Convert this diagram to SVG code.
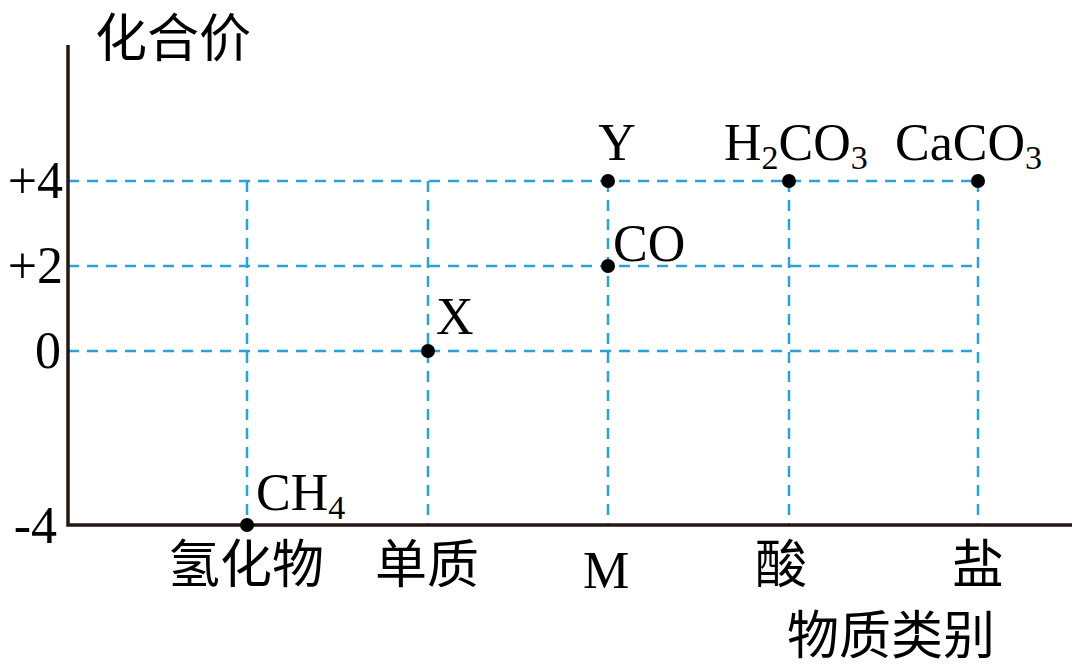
<svg xmlns="http://www.w3.org/2000/svg" width="1080" height="668" viewBox="0 0 1080 668">
<style>
.ax{stroke:#231815;stroke-width:3.5;fill:none}
.gd{stroke:#2aa2d6;stroke-width:2.5;stroke-dasharray:11 8;fill:none}
.t{font-family:"Liberation Serif","Times New Roman",serif;font-size:52px;fill:#000}
.s{font-size:34px}
.c{font-family:"Noto Sans CJK SC",sans-serif;font-size:52px;fill:#000}
.dot{fill:#000}
</style>
<rect width="1080" height="668" fill="#fff"/>
<g id="grid">
<path class="gd" d="M68 181H978M68 266H978M68 351H978"/>
<path class="gd" d="M247 181V525M428 181V525M608 181V525M789 181V525M978 181V525"/>
</g>
<g id="axes">
<path class="ax" d="M68 45V525H1072"/>
</g>
<g id="ylabels">
<text class="c" x="95" y="57" font-size="48">化合价</text>
<text class="t" x="63" y="198" text-anchor="end">+4</text>
<text class="t" x="63" y="283" text-anchor="end">+2</text>
<text class="t" x="61" y="368" text-anchor="end">0</text>
<text class="t" x="57" y="543" text-anchor="end">-4</text>
</g>
<g id="xlabels">
<text class="c" x="246" y="583" text-anchor="middle" font-size="54">氢化物</text>
<text class="c" x="427" y="583" text-anchor="middle" font-size="54">单质</text>
<text class="t" x="606" y="588" text-anchor="middle" font-size="54">M</text>
<text class="c" x="781" y="583" text-anchor="middle" font-size="54">酸</text>
<text class="c" x="978" y="583" text-anchor="middle" font-size="54">盐</text>
<text class="c" x="891" y="654" text-anchor="middle" font-size="54">物质类别</text>
</g>
<g id="p-ch4"><circle class="dot" cx="247" cy="525" r="7"/><text class="t" x="256" y="510">CH<tspan class="s" dy="9">4</tspan></text></g>
<g id="p-x"><circle class="dot" cx="428" cy="351" r="7"/><text class="t" x="436" y="334">X</text></g>
<g id="p-co"><circle class="dot" cx="608" cy="266" r="7"/><text class="t" x="613" y="261">CO</text></g>
<g id="p-y"><circle class="dot" cx="608" cy="181" r="7"/><text class="t" x="617" y="160" text-anchor="middle">Y</text></g>
<g id="p-h2co3"><circle class="dot" cx="789" cy="181" r="7"/><text class="t" x="724" y="160">H<tspan class="s" dy="9">2</tspan><tspan dy="-9">CO</tspan><tspan class="s" dy="9">3</tspan></text></g>
<g id="p-caco3"><circle class="dot" cx="978" cy="181" r="7"/><text class="t" x="895" y="160">CaCO<tspan class="s" dy="9">3</tspan></text></g>
</svg>
